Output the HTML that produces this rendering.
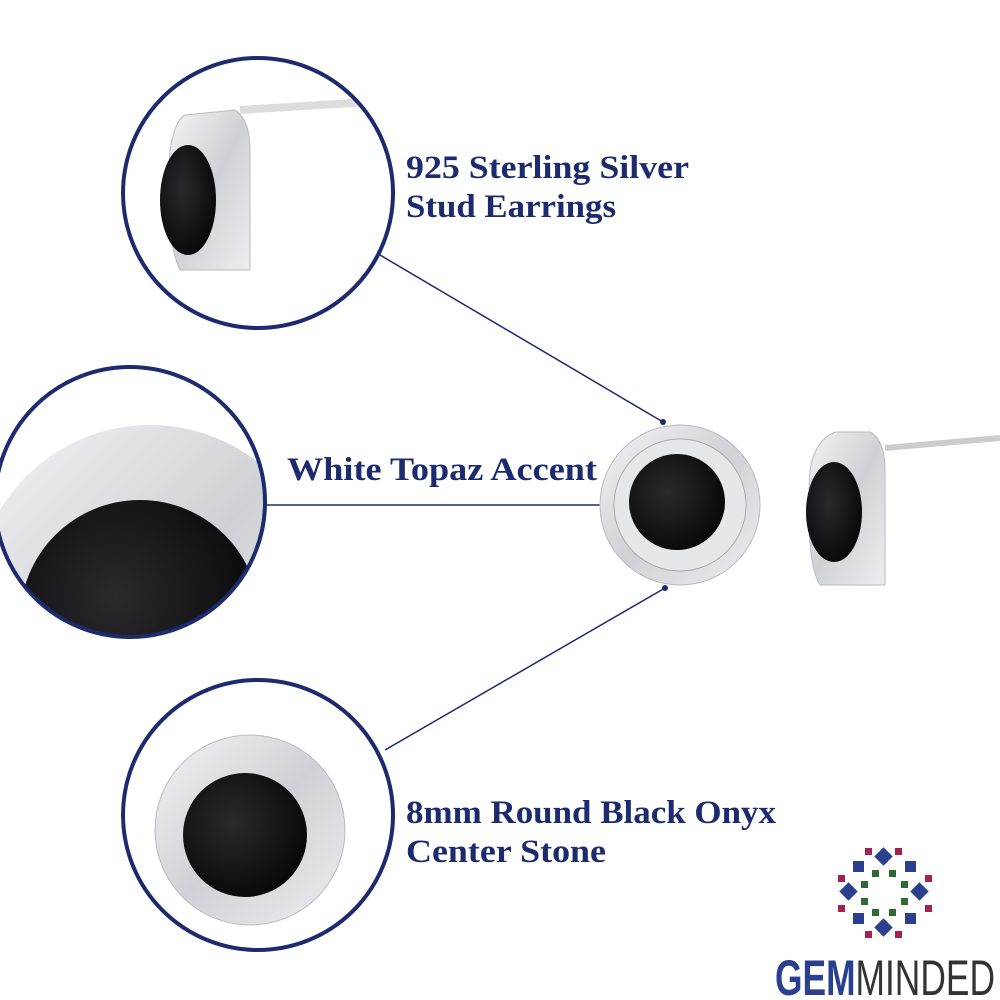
<!DOCTYPE html>
<html><head><style>
html,body{margin:0;padding:0;background:#fff;width:1000px;height:1000px;overflow:hidden}
</style></head><body>
<svg width="1000" height="1000" viewBox="0 0 1000 1000" xmlns="http://www.w3.org/2000/svg">
<defs>
<radialGradient id="onyx" cx="0.4" cy="0.4" r="0.7"><stop offset="0" stop-color="#2a2a2e"/><stop offset="1" stop-color="#050507"/></radialGradient>
<linearGradient id="silver" x1="0" y1="0" x2="1" y2="1"><stop offset="0" stop-color="#f4f4f6"/><stop offset="0.5" stop-color="#d0d1d6"/><stop offset="1" stop-color="#eeeef0"/></linearGradient>
<clipPath id="c1"><circle cx="258" cy="193" r="135"/></clipPath>
<clipPath id="c2"><circle cx="130" cy="502" r="135"/></clipPath>
<clipPath id="c3"><circle cx="258" cy="815" r="135"/></clipPath>
</defs>
<g stroke="#1c2a6e" stroke-width="1.5">
<line x1="380" y1="255" x2="663" y2="422"/>
<line x1="266" y1="505" x2="632" y2="505"/>
<line x1="385" y1="750" x2="665" y2="588"/>
</g>
<circle cx="663" cy="422" r="3" fill="#1c2a6e"/>
<circle cx="665" cy="588" r="3" fill="#1c2a6e"/>
<circle cx="680" cy="505" r="80" fill="url(#silver)" stroke="#bbb"/>
<circle cx="680" cy="505" r="66" fill="#e6e7ea" stroke="#aaa"/>
<circle cx="677" cy="502" r="48" fill="url(#onyx)"/>
<path d="M835 432 L870 432 Q885 440 885 470 L885 585 L820 585 Q805 560 810 470 Q815 440 835 432Z" fill="url(#silver)" stroke="#bbb"/>
<ellipse cx="834" cy="512" rx="28" ry="50" fill="url(#onyx)"/>
<line x1="885" y1="448" x2="1000" y2="438" stroke="#ccc" stroke-width="6"/>
<g clip-path="url(#c1)">
<rect x="120" y="50" width="280" height="290" fill="#fff"/>
<line x1="240" y1="110" x2="400" y2="100" stroke="#ddd" stroke-width="8"/>
<path d="M185 115 L235 110 Q250 120 250 150 L250 270 L180 270 Q165 240 170 150 Q175 120 185 115Z" fill="url(#silver)" stroke="#bbb"/>
<ellipse cx="188" cy="200" rx="28" ry="55" fill="url(#onyx)"/>
</g>
<circle cx="258" cy="193" r="135" fill="none" stroke="#1c2a6e" stroke-width="4"/>
<g clip-path="url(#c2)">
<rect x="-10" y="360" width="280" height="290" fill="#fff"/>
<circle cx="150" cy="600" r="175" fill="url(#silver)"/>
<circle cx="140" cy="620" r="120" fill="url(#onyx)"/>
</g>
<circle cx="130" cy="502" r="135" fill="none" stroke="#1c2a6e" stroke-width="4"/>
<g clip-path="url(#c3)">
<rect x="120" y="675" width="280" height="290" fill="#fff"/>
<circle cx="250" cy="830" r="95" fill="url(#silver)" stroke="#bbb"/>
<circle cx="245" cy="835" r="62" fill="url(#onyx)"/>
</g>
<circle cx="258" cy="815" r="135" fill="none" stroke="#1c2a6e" stroke-width="4"/>
<g font-family="Liberation Serif, serif" font-weight="bold" font-size="33" fill="#1c2a6e" lengthAdjust="spacingAndGlyphs">
<text x="406" y="178" textLength="283" lengthAdjust="spacingAndGlyphs">925 Sterling Silver</text>
<text x="406" y="217" textLength="210" lengthAdjust="spacingAndGlyphs">Stud Earrings</text>
<text x="287" y="480" textLength="310" lengthAdjust="spacingAndGlyphs">White Topaz Accent</text>
<text x="406" y="823" textLength="370" lengthAdjust="spacingAndGlyphs">8mm Round Black Onyx</text>
<text x="406" y="862" textLength="200" lengthAdjust="spacingAndGlyphs">Center Stone</text>
</g>
<g transform="translate(885,893)">
<g fill="#2b3f8f">
<rect x="-8" y="-43" width="13" height="13" transform="rotate(45 -1.5 -36.5)"/>
<rect x="-8" y="28" width="13" height="13" transform="rotate(45 -1.5 34.5)"/>
<rect x="-43" y="-8" width="13" height="13" transform="rotate(45 -36.5 -1.5)"/>
<rect x="28" y="-8" width="13" height="13" transform="rotate(45 34.5 -1.5)"/>
<rect x="-32" y="-32" width="11" height="11"/><rect x="20" y="-32" width="11" height="11"/>
<rect x="-32" y="20" width="11" height="11"/><rect x="20" y="20" width="11" height="11"/>
</g>
<g fill="#a3224f">
<rect x="-20" y="-45" width="7" height="7"/><rect x="10" y="-45" width="7" height="7"/>
<rect x="-20" y="38" width="7" height="7"/><rect x="10" y="38" width="7" height="7"/>
<rect x="-47" y="-18" width="7" height="7"/><rect x="40" y="-18" width="7" height="7"/>
<rect x="-47" y="12" width="7" height="7"/><rect x="40" y="12" width="7" height="7"/>
</g>
<g fill="#2f6a35">
<rect x="-13" y="-23" width="7" height="7"/><rect x="4" y="-23" width="7" height="7"/>
<rect x="-13" y="16" width="7" height="7"/><rect x="4" y="16" width="7" height="7"/>
<rect x="-24" y="-12" width="7" height="7"/><rect x="16" y="-12" width="7" height="7"/>
<rect x="-24" y="5" width="7" height="7"/><rect x="16" y="5" width="7" height="7"/>
</g>
</g>
<text x="775" y="995" font-family="Liberation Sans Narrow, Liberation Sans, sans-serif" font-size="50" textLength="220" lengthAdjust="spacingAndGlyphs"><tspan fill="#2b3f8f" font-weight="bold">GEM</tspan><tspan fill="#333">MINDED</tspan></text>
</svg>
</body></html>
